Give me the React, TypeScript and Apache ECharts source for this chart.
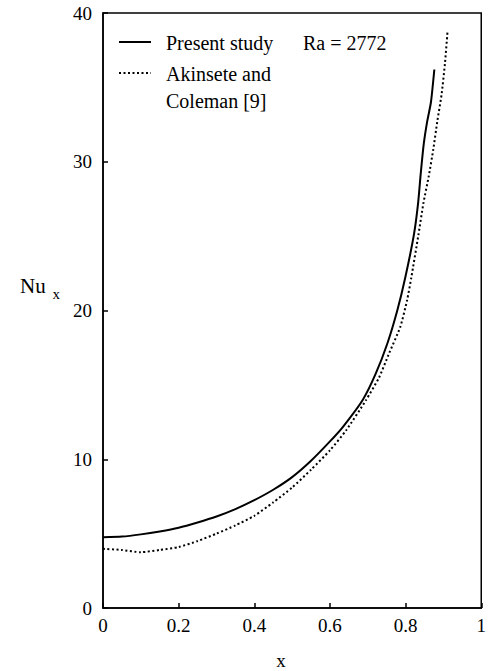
import React, { useEffect, useRef } from "react";
import * as echarts from "echarts";

const presentX = [0, 0.05, 0.1, 0.15, 0.2, 0.25, 0.3, 0.35, 0.4, 0.45, 0.5, 0.55, 0.6, 0.635, 0.687, 0.721, 0.752, 0.778, 0.799, 0.822, 0.833, 0.84, 0.848, 0.857, 0.867, 0.876];
const presentNu = [4.75, 4.8, 4.95, 5.15, 5.4, 5.75, 6.15, 6.65, 7.25, 7.95, 8.8, 9.9, 11.2, 12.2, 14.0, 15.75, 17.8, 20.0, 22.2, 25.1, 27.2, 29.2, 31.2, 32.7, 34.0, 36.2];

const akinseteX = [0, 0.05, 0.1, 0.15, 0.2, 0.25, 0.3, 0.35, 0.4, 0.45, 0.5, 0.55, 0.6, 0.643, 0.695, 0.73, 0.756, 0.786, 0.804, 0.815, 0.834, 0.847, 0.861, 0.873, 0.884, 0.895, 0.904, 0.911];
const akinseteNu = [3.98, 3.9, 3.75, 3.9, 4.1, 4.5, 5.0, 5.55, 6.2, 7.1, 8.1, 9.3, 10.6, 11.95, 13.96, 15.5, 17.1, 18.9, 20.7, 22.2, 25.1, 27.2, 29.0, 30.8, 32.75, 34.5, 36.6, 38.8];

const seriesNames = ["Present study", "Akinsete and\nColeman [9]"];
const raLabel = "Ra = 2772";

const FONT = "'Liberation Serif', 'Times New Roman', Times, serif";

export default function App() {
  const ref = useRef<HTMLDivElement>(null);
  useEffect(() => {
    document.body.style.margin = "0";
    if (!ref.current) return;
    const chart = echarts.init(ref.current, null, { renderer: "svg" });
    const txt = { fontFamily: FONT, fontSize: 20, fill: "#000" };
    chart.setOption({
      animation: false,
      backgroundColor: "#fff",
      textStyle: { fontFamily: FONT },
      grid: {
        left: 103,
        right: 3,
        top: 13,
        bottom: 63,
        show: true,
        borderColor: "#000",
        borderWidth: 1.5,
      },
      xAxis: {
        type: "value",
        min: 0,
        max: 1,
        interval: 0.2,
        axisLine: { lineStyle: { color: "#000", width: 1.5 } },
        axisTick: { inside: true, length: 5, lineStyle: { color: "#000", width: 1.5 } },
        axisLabel: {
          color: "#000",
          fontFamily: FONT,
          fontSize: 19,
          margin: 8,
          formatter: (v: number) => (v === 0 || v === 1 ? String(v) : v.toFixed(1)),
        },
        splitLine: { show: false },
      },
      yAxis: {
        type: "value",
        min: 0,
        max: 40,
        interval: 10,
        axisLine: { show: true, lineStyle: { color: "#000", width: 1.5 } },
        axisTick: { show: true, inside: true, length: 5, lineStyle: { color: "#000", width: 1.5 } },
        axisLabel: { color: "#000", fontFamily: FONT, fontSize: 19, margin: 11 },
        splitLine: { show: false },
      },
      series: [
        {
          name: seriesNames[0],
          type: "line",
          data: presentX.map((x, i) => [x, presentNu[i]]),
          showSymbol: false,
          smooth: 0.2,
          lineStyle: { color: "#000", width: 2 },
        },
        {
          name: seriesNames[1],
          type: "line",
          data: akinseteX.map((x, i) => [x, akinseteNu[i]]),
          showSymbol: false,
          smooth: 0.2,
          lineStyle: { color: "#000", width: 2, type: [2, 2.5] },
        },
      ],
      graphic: [
        { type: "line", shape: { x1: 119, y1: 42, x2: 151, y2: 42 }, style: { stroke: "#000", lineWidth: 2 } },
        { type: "text", x: 166, y: 43, style: { ...txt, text: seriesNames[0], verticalAlign: "middle" } },
        { type: "text", x: 303, y: 43, style: { ...txt, text: raLabel, verticalAlign: "middle" } },
        { type: "line", shape: { x1: 119, y1: 73, x2: 151, y2: 73 }, style: { stroke: "#000", lineWidth: 2, lineDash: [2, 2.5] } },
        { type: "text", x: 166, y: 74, style: { ...txt, text: "Akinsete and", verticalAlign: "middle" } },
        { type: "text", x: 166, y: 101, style: { ...txt, text: "Coleman [9]", verticalAlign: "middle" } },
        { type: "text", x: 20, y: 286, style: { ...txt, fontSize: 21, text: "Nu", verticalAlign: "middle" } },
        { type: "text", x: 52.5, y: 294, style: { ...txt, fontSize: 15, text: "x", verticalAlign: "middle" } },
        { type: "text", x: 281, y: 660, style: { ...txt, fontSize: 19, text: "x", align: "center", verticalAlign: "middle" } },
      ],
    });
    return () => chart.dispose();
  }, []);
  return <div ref={ref} style={{ width: 489, height: 671 }} />;
}
